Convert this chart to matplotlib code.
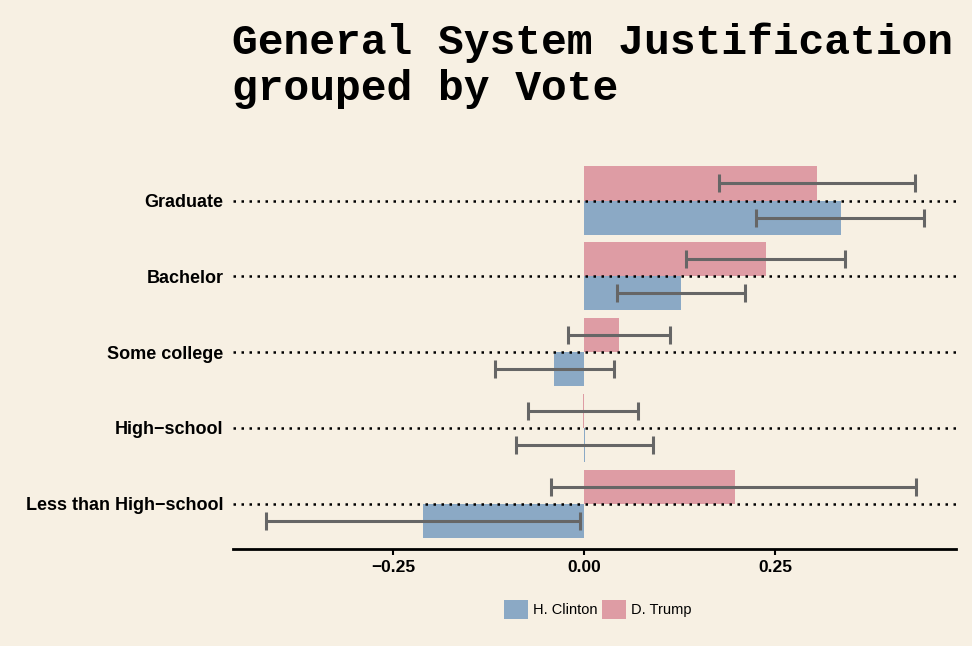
import numpy as np
import matplotlib.pyplot as plt
from matplotlib.patches import Patch

# data
categories = ['Less than High\u2212school', 'High\u2212school', 'Some college', 'Bachelor', 'Graduate']
trump_mean = [0.197, -0.002, 0.046, 0.238, 0.304]
trump_low = [-0.043, -0.074, -0.021, 0.133, 0.176]
trump_high = [0.434, 0.070, 0.112, 0.341, 0.433]
clinton_mean = [-0.211, 0.001, -0.039, 0.127, 0.336]
clinton_low = [-0.416, -0.089, -0.116, 0.043, 0.225]
clinton_high = [-0.005, 0.090, 0.039, 0.211, 0.445]
ticks = [-0.25, 0.0, 0.25]
tick_labels = ['\u22120.25', '0.00', '0.25']

bg = '#F7F0E3'
pink = '#DE9CA4'
blue = '#8BA9C5'
err_col = '#666666'

fig = plt.figure(figsize=(9.72, 6.46), dpi=100, facecolor=bg)
ax = fig.add_axes([0.240, 0.150, 0.744, 0.610])
ax.set_facecolor(bg)

y = np.arange(1, len(categories) + 1)
h = 0.45

ax.barh(y + h / 2, trump_mean, height=h, color=pink, zorder=2)
ax.barh(y - h / 2, clinton_mean, height=h, color=blue, zorder=2)

# dotted category lines (visible over the bars in the reference)
for yy in y:
    ax.axhline(yy, color='black', linestyle=(0, (1, 2.2)), linewidth=1.8, zorder=2.5)

for yy, lo, hi in zip(y + h / 2, trump_low, trump_high):
    ax.errorbar([(lo + hi) / 2], [yy], xerr=[[(hi - lo) / 2]], fmt='none',
                ecolor=err_col, elinewidth=2.2, capsize=6.5, capthick=2.2, zorder=3)
for yy, lo, hi in zip(y - h / 2, clinton_low, clinton_high):
    ax.errorbar([(lo + hi) / 2], [yy], xerr=[[(hi - lo) / 2]], fmt='none',
                ecolor=err_col, elinewidth=2.2, capsize=6.5, capthick=2.2, zorder=3)

ax.set_xlim(-0.459, 0.487)
ax.set_ylim(0.4, 5.6)

ax.set_xticks(ticks)
ax.set_xticklabels(tick_labels, fontsize=12.5, fontweight='bold', family='Liberation Sans')
ax.set_yticks(y)
ax.set_yticklabels(categories, fontsize=13, fontweight='bold', family='Liberation Sans')
ax.tick_params(axis='y', length=0, pad=7)
ax.tick_params(axis='x', length=4, width=1.5, pad=4)

for s in ['top', 'right', 'left']:
    ax.spines[s].set_visible(False)
ax.spines['bottom'].set_linewidth(2)

fig.text(0.239, 1 - 54 / 646, 'General System Justification',
         fontsize=31, fontweight='bold', family='Liberation Mono', ha='left', va='baseline')
fig.text(0.239, 1 - 100 / 646, 'grouped by Vote',
         fontsize=31, fontweight='bold', family='Liberation Mono', ha='left', va='baseline')

handles = [Patch(facecolor=blue, label='H. Clinton'), Patch(facecolor=pink, label='D. Trump')]
fig.legend(handles=handles, loc='center', bbox_to_anchor=(0.615, 0.0565), ncol=2,
           frameon=False, handlelength=1.65, handleheight=1.65,
           handletextpad=0.35, columnspacing=0.35, prop={'family': 'Liberation Sans', 'size': 10.5})

fig.savefig('out.png', dpi=100, facecolor=bg)
